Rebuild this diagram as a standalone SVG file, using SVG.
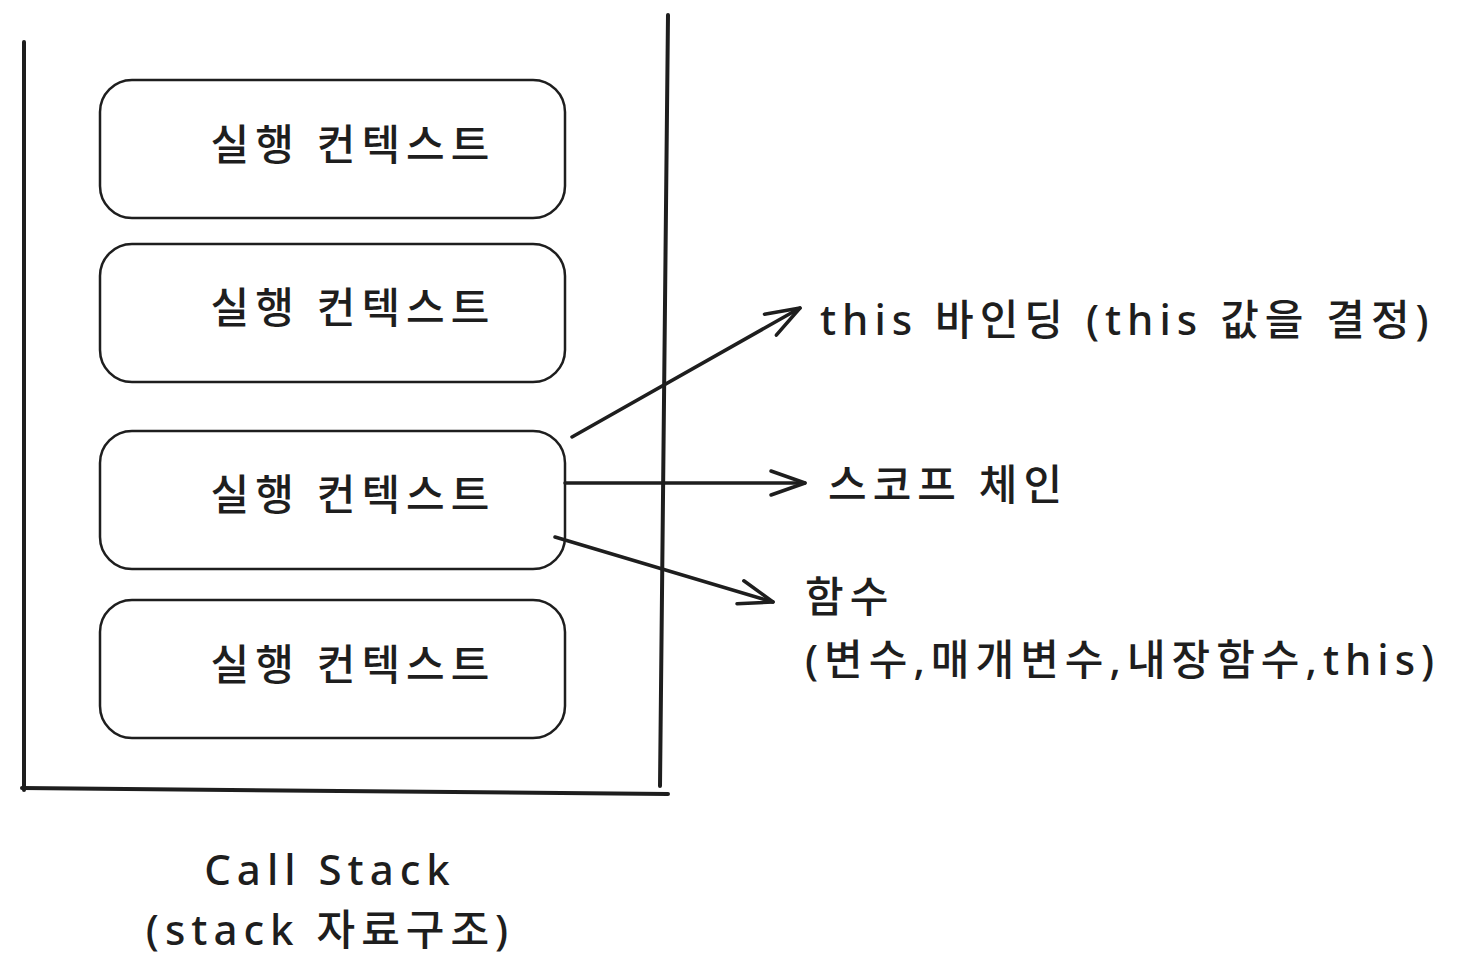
<svg xmlns="http://www.w3.org/2000/svg" width="1460" height="956" viewBox="0 0 1460 956">
<defs>
<style>
.line{fill:none;stroke:#1e1e1e;stroke-width:4;stroke-linecap:round}
.box{fill:#ffffff;stroke:#1e1e1e;stroke-width:2.5}
.conn{fill:none;stroke:#1e1e1e;stroke-width:3.5;stroke-linecap:round;stroke-linejoin:round}
.t{font-family:"Noto Sans","Noto Sans CJK KR",sans-serif;font-size:42px;font-weight:500;fill:#1e1e1e;letter-spacing:6px}
.c{text-anchor:middle}
</style>
<marker id="ah2" viewBox="0 0 40 30" refX="37" refY="15" markerWidth="40" markerHeight="30" markerUnits="userSpaceOnUse" orient="auto">
<path d="M3,3 L37,15 L3,27" fill="none" stroke="#1e1e1e" stroke-width="3.5" stroke-linecap="round" stroke-linejoin="round"/>
</marker>
</defs>
<rect width="1460" height="956" fill="#ffffff"/>
<g id="container">
<path class="line" d="M24,42 L24,790"/>
<path class="line" d="M22,788 L668,794"/>
<path class="line" d="M668,15 L660,786"/>
</g>
<g id="ctx1">
<rect class="box" x="100" y="80" width="465" height="138" rx="32"/>
<text class="t c" x="353" y="160">실행 컨텍스트</text>
</g>
<g id="ctx2">
<rect class="box" x="100" y="244" width="465" height="138" rx="32"/>
<text class="t c" x="353" y="323">실행 컨텍스트</text>
</g>
<g id="ctx3">
<rect class="box" x="100" y="431" width="465" height="138" rx="32"/>
<text class="t c" x="353" y="510">실행 컨텍스트</text>
</g>
<g id="ctx4">
<rect class="box" x="100" y="600" width="465" height="138" rx="32"/>
<text class="t c" x="353" y="680">실행 컨텍스트</text>
</g>
<g id="connectors">
<path class="conn" d="M572,437 L800,308" marker-end="url(#ah2)"/>
<path class="conn" d="M565,483 L805,483" marker-end="url(#ah2)"/>
<path class="conn" d="M555,537 L773,602" marker-end="url(#ah2)"/>
</g>
<g id="label-this">
<text class="t" x="820" y="335">this 바인딩 (this 값을 결정)</text>
</g>
<g id="label-scope">
<text class="t" x="828" y="500">스코프 체인</text>
</g>
<g id="label-func">
<text class="t" x="805" y="612">함수</text>
<text class="t" x="805" y="675">(변수,매개변수,내장함수,this)</text>
</g>
<g id="caption">
<text class="t c" x="330" y="885">Call Stack</text>
<text class="t c" x="330" y="945">(stack 자료구조)</text>
</g>
</svg>
